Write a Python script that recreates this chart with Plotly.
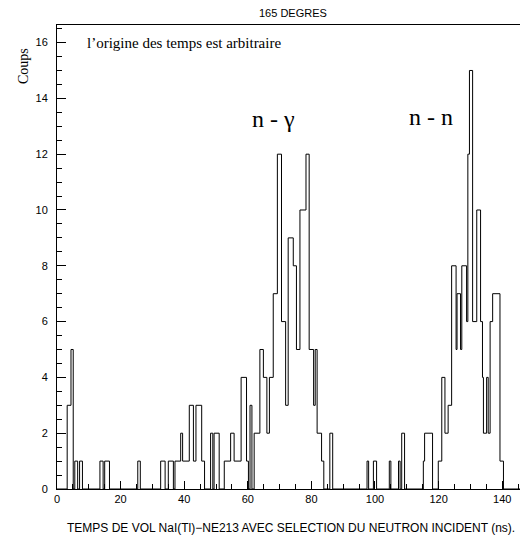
import plotly.graph_objects as go

# Histogram: each segment starts at seg_start (ns) and
# keeps its count until the next start.
seg_start = [0, 3.2, 4.4, 5.1, 5.6, 6.5, 7.1, 8.0,
             13.5, 14.5, 15.0, 16.5,
             25.4, 26.2,
             32.6, 34.0, 35.0, 36.6, 37.1, 38.9, 39.5, 41.6, 42.9, 43.7, 45.5, 46.4,
             48.3, 49.0, 49.4, 51.0,
             52.6, 54.6, 55.7, 57.9, 59.6, 60.2, 60.7, 61.3, 62.0, 63.8, 64.9, 66.0,
             66.8, 68.0, 69.3, 70.6, 71.9, 72.7, 74.3, 75.3, 76.4, 78.3, 79.3, 80.7,
             81.2, 81.8, 83.2, 83.9,
             85.8, 86.7,
             97.5, 98.0, 99.5, 100.5,
             104.5, 105.0, 107.4, 107.9, 108.4, 109.3,
             115.2, 115.6, 118.1, 119.9, 121.0, 122.0, 123.0, 124.1, 125.5, 125.8,
             126.9, 127.3, 128.8, 129.2, 129.7, 130.7, 132.0, 133.2, 133.8, 134.1,
             135.1, 135.6, 136.2, 137.0, 139.3, 140.4, 145.6]
seg_count = [0, 3, 5, 0, 1, 0, 1, 0,
             1, 0, 1, 0,
             1, 0,
             1, 0, 1, 0, 1, 2, 1, 3, 1, 3, 1, 0,
             2, 0, 2, 0,
             1, 2, 1, 4, 1, 0, 3, 0, 2, 5, 4, 2,
             4, 7, 12, 6, 3, 9, 8, 5, 10, 12, 5, 3,
             5, 2, 1, 0,
             2, 0,
             1, 0, 1, 0,
             1, 0, 1, 0, 2, 0,
             1, 2, 0, 1, 4, 2, 3, 8, 5, 7,
             5, 8, 6, 12, 15, 6, 10, 6, 4, 2,
             4, 2, 6, 7, 1, 0, 0]

x_ticks = [0, 20, 40, 60, 80, 100, 120, 140]
y_ticks = [0, 2, 4, 6, 8, 10, 12, 14, 16]

fig = go.Figure(go.Scatter(
    x=seg_start, y=seg_count, mode="lines",
    line=dict(shape="hv", color="black", width=1),
    hoverinfo="skip", showlegend=False))

W, H = 520, 539
L, R, T, B = 57, 0, 25, 50
pw, ph = W - L - R, H - T - B

def px(x):
    return (x - L) / pw

def py(y):
    return (H - B - y) / ph

fig.update_layout(
    width=W, height=H,
    margin=dict(l=L, r=R, t=T, b=B, autoexpand=False),
    paper_bgcolor="white", plot_bgcolor="white",
    font=dict(family="Liberation Sans", size=11, color="black"),
    xaxis=dict(range=[0, 145.6], tickvals=x_ticks, ticks="inside", ticklen=8,
               tickcolor="black", showline=True, linecolor="black", linewidth=1,
               mirror=True, showgrid=False, zeroline=False, automargin=False,
               minor=dict(dtick=5, ticks="inside", ticklen=5, tickcolor="black"),
               tickfont=dict(size=11)),
    yaxis=dict(range=[0, 16.63], tickvals=y_ticks, ticks="inside", ticklen=9,
               tickcolor="black", showline=True, linecolor="black", linewidth=1,
               showgrid=False, zeroline=False, ticklabelstandoff=6, automargin=False,
               minor=dict(dtick=0.5, ticks="inside", ticklen=5, tickcolor="black"),
               tickfont=dict(size=11)),
)

ann = [
    dict(text="165 DEGRES", x=px(293), y=py(13), font=dict(size=11,
         family="Liberation Sans")),
    dict(text="l’origine des temps est arbitraire", x=px(85), y=py(43), xanchor="left",
         font=dict(size=15, family="Liberation Serif")),
    dict(text="Coups", x=px(23), y=py(66), textangle=-90,
         font=dict(size=14, family="Liberation Serif")),
    dict(text="n - γ", x=px(273), y=py(119), font=dict(size=24, family="Liberation Serif")),
    dict(text="n - n", x=px(431), y=py(117), font=dict(size=24, family="Liberation Serif")),
    dict(text="TEMPS DE VOL NaI(Tl)−NE213 AVEC SELECTION DU NEUTRON INCIDENT (ns).",
         x=px(291), y=py(528), font=dict(size=12, family="Liberation Sans")),
]
for a in ann:
    a.update(xref="paper", yref="paper", showarrow=False)
    a.setdefault("xanchor", "center")
    a.setdefault("yanchor", "middle")
fig.update_layout(annotations=ann)

fig.write_html("out.html", config={"displayModeBar": False},
               post_script="document.body.style.margin='0';"
                           "document.body.style.overflow='hidden';")
